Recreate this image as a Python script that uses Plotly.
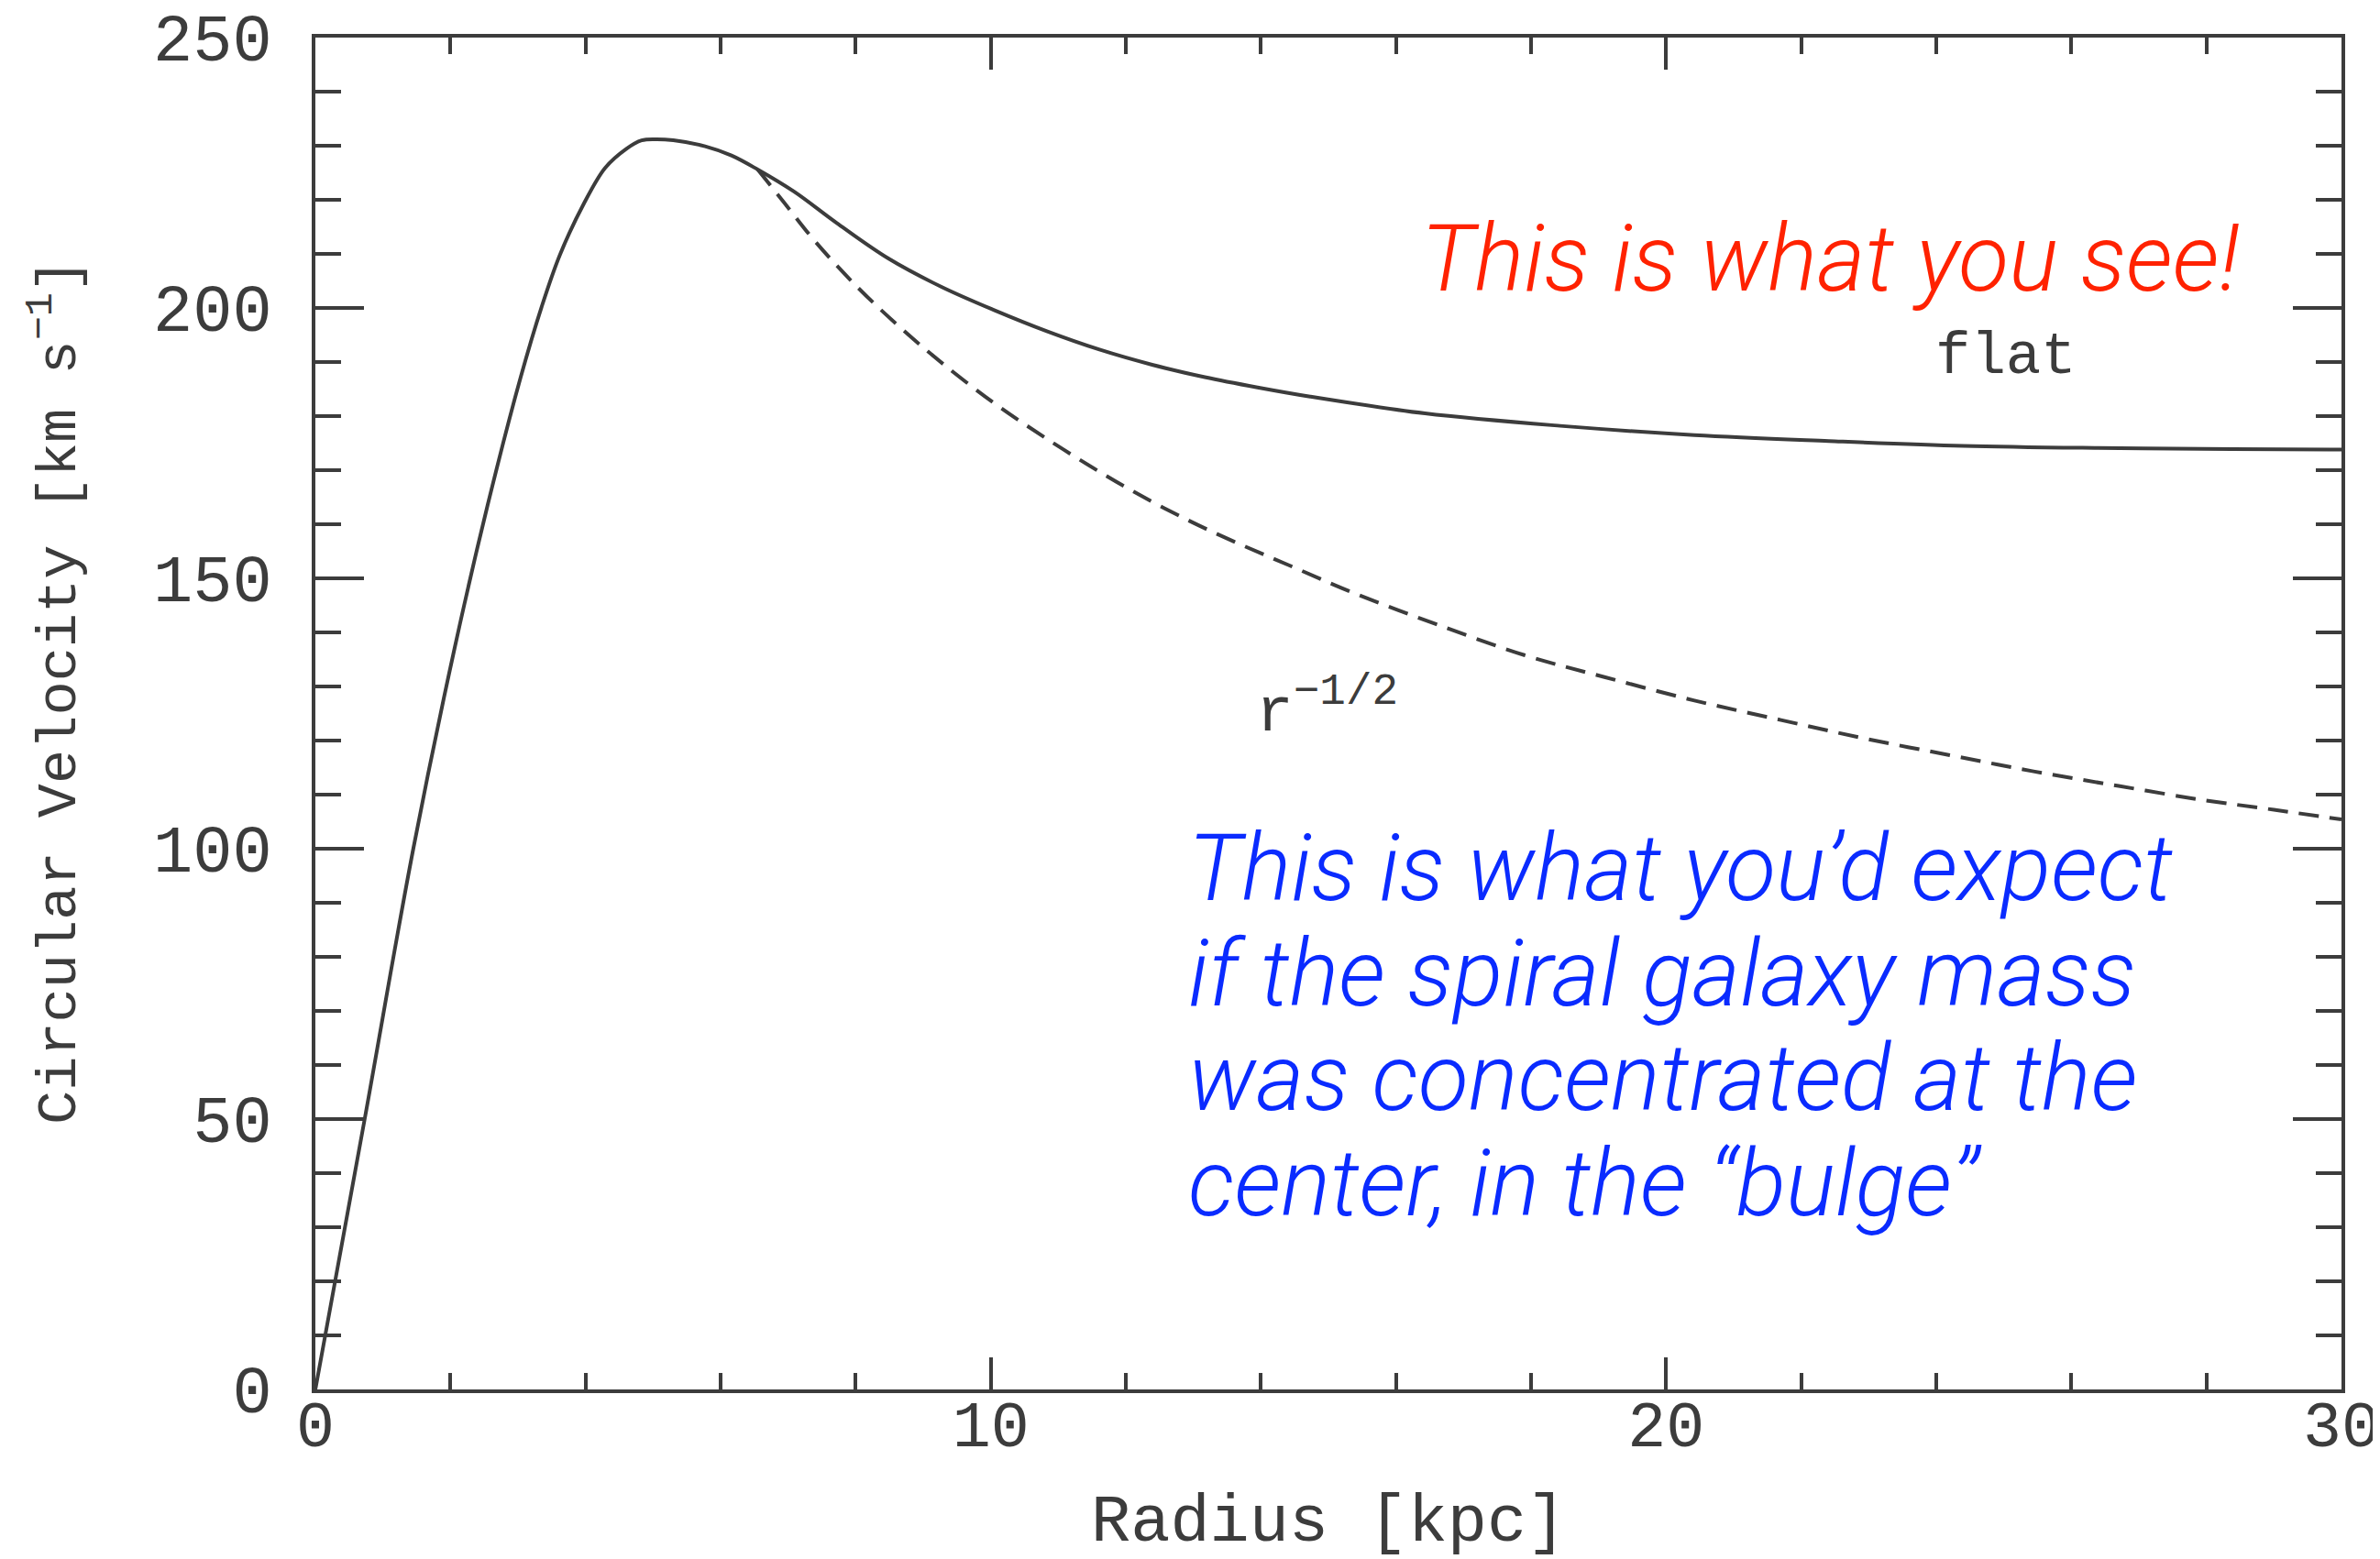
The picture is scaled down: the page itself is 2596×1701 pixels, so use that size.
import plotly.graph_objects as go

# ---- data ----
radius_observed = [0, 0.73, 1.45, 2.06, 2.55, 3.04, 3.35, 3.62, 3.98, 4.29, 4.6, 4.83,
                   5.05, 5.30, 5.77, 6.16, 6.55, 7.09, 7.72, 8.49, 9.27, 10.05, 10.83, 11.61,
                   12.39, 13.17, 13.95, 14.73, 16.43, 18.43, 20.42, 22.41, 24.4, 26.39, 28.38, 30]
velocity_observed = [0, 50, 100, 137, 163.5, 187.2, 200.2, 209.8, 219.4, 225.9, 229.4, 231.0,
                     231.2, 231.0, 229.9, 228.2, 225.6, 221.5, 215.7, 209.1, 203.9, 199.6, 195.7,
                     192.3, 189.5, 187.2, 185.3, 183.6, 180.5, 178.2, 176.5, 175.4, 174.5, 174.1,
                     173.9, 173.8]

radius_kepler = [6.55, 6.94, 7.40, 8.03, 8.65, 9.27, 10.05, 10.83, 11.61, 12.12, 12.88, 13.6,
                 14.4, 15.39, 16.6, 17.9, 19.1, 20.42, 21.7, 22.93, 24.2, 25.44, 26.7, 27.95,
                 29.0, 30]
velocity_kepler = [225.6, 219.5, 212.3, 203.8, 196.5, 189.9, 182.4, 175.8, 169.7, 166.0, 161.0,
                   156.8, 152.5, 147.2, 141.5, 135.8, 131.7, 127.4, 123.8, 120.4, 117.3, 114.3,
                   111.6, 109.0, 107.2, 105.4]

x_ticks = [0, 10, 20, 30]
y_ticks = [0, 50, 100, 150, 200, 250]

INK = "#3c3c3c"
MONO = "Liberation Mono, Courier New, monospace"
SANS = "Roboto, Liberation Sans, Helvetica, sans-serif"

fig = go.Figure()
fig.add_trace(go.Scatter(x=radius_kepler, y=velocity_kepler, mode="lines",
                         line=dict(color=INK, width=4, dash="22px,12px", shape="spline", smoothing=1.0),
                         showlegend=False, hoverinfo="skip"))
fig.add_trace(go.Scatter(x=radius_observed, y=velocity_observed, mode="lines",
                         line=dict(color=INK, width=4, shape="spline", smoothing=1.0),
                         showlegend=False, hoverinfo="skip"))

axis_common = dict(showline=True, linecolor=INK, linewidth=4, mirror="allticks",
                   ticks="inside", tickcolor=INK, tickwidth=4, showgrid=False, zeroline=False,
                   ticklabeloverflow="allow", automargin=False)

fig.update_xaxes(range=[0, 30], tickvals=x_ticks, ticklen=35,
                 minor=dict(ticks="inside", dtick=2, ticklen=18, tickwidth=4, tickcolor=INK),
                 tickfont=dict(family=MONO, size=70, color=INK),
                 ticklabelstandoff=-26, **axis_common)
fig.update_yaxes(range=[0, 250], tickvals=y_ticks, ticklen=53,
                 minor=dict(ticks="inside", dtick=10, ticklen=28, tickwidth=4, tickcolor=INK),
                 tickfont=dict(family=MONO, size=72, color=INK),
                 ticklabelstandoff=29, **axis_common)

annotations = [
    dict(text="Radius [kpc]", xref="paper", yref="paper", x=0.5, y=-0.099,
         xanchor="center", yanchor="middle",
         font=dict(family=MONO, size=72, color=INK)),
    dict(text="Circular Velocity [km s<sup>\u22121</sup>]", xref="paper", yref="paper",
         x=-0.128, y=0.516, textangle=-90, xanchor="center", yanchor="middle",
         font=dict(family=MONO, size=62, color=INK)),
    dict(text="This is what you see!", xref="x", yref="y", x=16.35, y=209, xanchor="left",
         yanchor="middle",
         font=dict(family=SANS, size=101, color="#FF2200", style="italic", weight=300)),
    dict(text="flat", xref="x", yref="y", x=25.03, y=190.8, xanchor="center", yanchor="middle",
         font=dict(family=MONO, size=64, color=INK)),
    dict(text="r<sup>\u22121/2</sup>", xref="x", yref="y", x=13.9, y=126, xanchor="left",
         yanchor="middle",
         font=dict(family=MONO, size=68, color=INK)),
]
blue_lines = ["This is what you\u2019d expect", "if the spiral galaxy mass",
              "was concentrated at the", "center, in the \u201cbulge\u201d"]
blue_y = [96.3, 76.9, 57.5, 38.1]
for line, yv in zip(blue_lines, blue_y):
    annotations.append(dict(text=line, xref="x", yref="y", x=12.9, y=yv, xanchor="left",
                            yanchor="middle",
                            font=dict(family=SANS, size=101, color="#0A2BFF", style="italic",
                                      weight=300)))
for a in annotations:
    a["showarrow"] = False

fig.update_layout(width=2596, height=1701, margin=dict(l=336, r=50, t=33, b=193),
                  paper_bgcolor="white", plot_bgcolor="white", annotations=annotations)

fig.write_html("out.html")
